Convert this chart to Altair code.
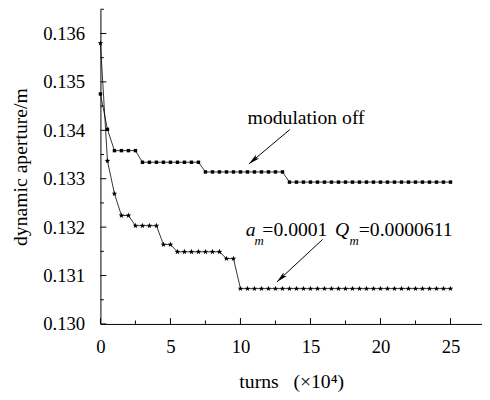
import altair as alt
import pandas as pd

# ---- data ----
off_x = [0, 0.5, 1.0, 1.5, 2.0, 2.5] + [3.0 + 0.5 * i for i in range(9)] + [7.5 + 0.5 * i for i in range(12)] + [13.5 + 0.5 * i for i in range(24)]
off_y = [0.13475, 0.13402] + [0.13358] * 4 + [0.13334] * 9 + [0.13314] * 12 + [0.13293] * 24

mod_x = [0, 0.5, 1.0, 1.5, 2.0] + [2.5, 3.0, 3.5, 4.0] + [4.5, 5.0] + [5.5 + 0.5 * i for i in range(7)] + [9.0, 9.5] + [10.0 + 0.5 * i for i in range(31)]
mod_y = [0.1358, 0.13337, 0.13269, 0.13224, 0.13224] + [0.13203] * 4 + [0.13164] * 2 + [0.13149] * 7 + [0.13135] * 2 + [0.13073] * 31

x_major = [0, 5, 10, 15, 20, 25]
x_minor = [2.5, 7.5, 12.5, 17.5, 22.5]
y_major = [0.130, 0.131, 0.132, 0.133, 0.134, 0.135, 0.136]
y_minor = [0.1305, 0.1315, 0.1325, 0.1335, 0.1345, 0.1355, 0.1365]

# annotations
txt_normal = pd.DataFrame({"x": [10.51, 11.56, 18.45], "y": [0.134123, 0.131814, 0.131814],
                           "t": ["modulation off", "=0.0001", "=0.0000611"]})
txt_ital = pd.DataFrame({"x": [10.37, 16.75], "y": [0.131814, 0.131814], "t": ["a", "Q"]})
txt_sub = pd.DataFrame({"x": [11.0, 17.78], "y": [0.131625, 0.131625], "t": ["m", "m"]})
arrows = pd.DataFrame({"x1": [13.53, 15.87], "y1": [0.134016, 0.131747],
                       "x2": [10.60, 12.60], "y2": [0.133305, 0.130867],
                       "ang": [230, 227]})

FONT = "Liberation Serif"
XD = [0, 27.25]
YD = [0.130, 0.1365]

series = pd.concat([
    pd.DataFrame({"x": off_x, "y": off_y, "s": "off"}),
    pd.DataFrame({"x": mod_x, "y": mod_y, "s": "mod"}),
])

xs = alt.Scale(domain=XD, nice=False, zero=False)
ys = alt.Scale(domain=YD, nice=False, zero=False)

X = alt.X("x:Q", scale=xs, axis=alt.Axis(
    values=x_major, title="turns\u00a0\u00a0\u00a0(\u00d710\u2074)", ticks=False, tickSize=0,
    grid=False, labelPadding=14, labelFlush=False, titleY=65, titleBaseline="alphabetic",
    titleFontSize=20))
Y = alt.Y("y:Q", scale=ys, axis=alt.Axis(
    values=y_major, format=".3f", title="dynamic aperture/m", ticks=False, tickSize=0,
    grid=False, labelPadding=16, labelFlush=False, titleX=-81, titleY=160,
    titleBaseline="middle", titleAngle=270, titleFontSize=20))

lines = alt.Chart(series).mark_line(color="black", strokeWidth=0.8).encode(x=X, y=Y, detail="s:N")

sq = alt.Chart(pd.DataFrame({"x": off_x, "y": off_y})).mark_point(
    shape="square", filled=True, color="black", size=12, opacity=1).encode(
    x=alt.X("x:Q", scale=xs), y=alt.Y("y:Q", scale=ys))

STAR = "M0,-1 L0.24,-0.33 L0.95,-0.31 L0.39,0.13 L0.59,0.81 L0,0.41 L-0.59,0.81 L-0.39,0.13 L-0.95,-0.31 L-0.24,-0.33 Z"
st = alt.Chart(pd.DataFrame({"x": mod_x, "y": mod_y})).mark_point(
    shape=STAR, filled=True, color="black", size=36, opacity=1).encode(
    x=alt.X("x:Q", scale=xs), y=alt.Y("y:Q", scale=ys))

# inward ticks
ymaj = alt.Chart(pd.DataFrame({"y": y_major})).mark_rule(color="black", strokeWidth=1).encode(
    y=alt.Y("y:Q", scale=ys), x=alt.value(0), x2=alt.value(6))
ymin = alt.Chart(pd.DataFrame({"y": y_minor})).mark_rule(color="black", strokeWidth=1).encode(
    y=alt.Y("y:Q", scale=ys), x=alt.value(0), x2=alt.value(3.5))
xmaj = alt.Chart(pd.DataFrame({"x": x_major})).mark_rule(color="black", strokeWidth=1).encode(
    x=alt.X("x:Q", scale=xs), y=alt.value(320), y2=alt.value(314))
xmin = alt.Chart(pd.DataFrame({"x": x_minor})).mark_rule(color="black", strokeWidth=1).encode(
    x=alt.X("x:Q", scale=xs), y=alt.value(320), y2=alt.value(316.5))

t1 = alt.Chart(txt_normal).mark_text(font=FONT, fontSize=20, align="left", baseline="alphabetic", color="black").encode(
    x=alt.X("x:Q", scale=xs), y=alt.Y("y:Q", scale=ys), text="t:N")
t2 = alt.Chart(txt_ital).mark_text(font=FONT, fontSize=20, fontStyle="italic", align="left", baseline="alphabetic", color="black").encode(
    x=alt.X("x:Q", scale=xs), y=alt.Y("y:Q", scale=ys), text="t:N")
t3 = alt.Chart(txt_sub).mark_text(font=FONT, fontSize=13, fontStyle="italic", align="left", baseline="alphabetic", color="black").encode(
    x=alt.X("x:Q", scale=xs), y=alt.Y("y:Q", scale=ys), text="t:N")

arr = alt.Chart(arrows).mark_rule(color="black", strokeWidth=1).encode(
    x=alt.X("x1:Q", scale=xs), y=alt.Y("y1:Q", scale=ys), x2="x2:Q", y2="y2:Q")
HEAD = "M0,0 L0.5,2.3 L0,1.8 L-0.5,2.3 Z"
heads = alt.Chart(arrows).mark_point(shape=HEAD, filled=True, color="black", size=100, opacity=1).encode(
    x=alt.X("x2:Q", scale=xs), y=alt.Y("y2:Q", scale=ys), angle=alt.Angle("ang:Q", scale=None))

chart = alt.layer(lines, sq, st, ymaj, ymin, xmaj, xmin, t1, t2, t3, arr, heads).properties(
    width=388, height=320,
    autosize=alt.AutoSizeParams(type="none"),
    padding={"left": 94, "top": -2, "right": 0, "bottom": 72},
).configure_view(strokeWidth=0).configure_axis(
    domainColor="black", domainWidth=1, labelFont=FONT, titleFont=FONT,
    labelFontSize=19, titleFontSize=20, labelColor="black", titleColor="black",
    titleFontWeight="normal",
)

chart.save("out.html", embed_options={"renderer": "svg", "actions": False})
